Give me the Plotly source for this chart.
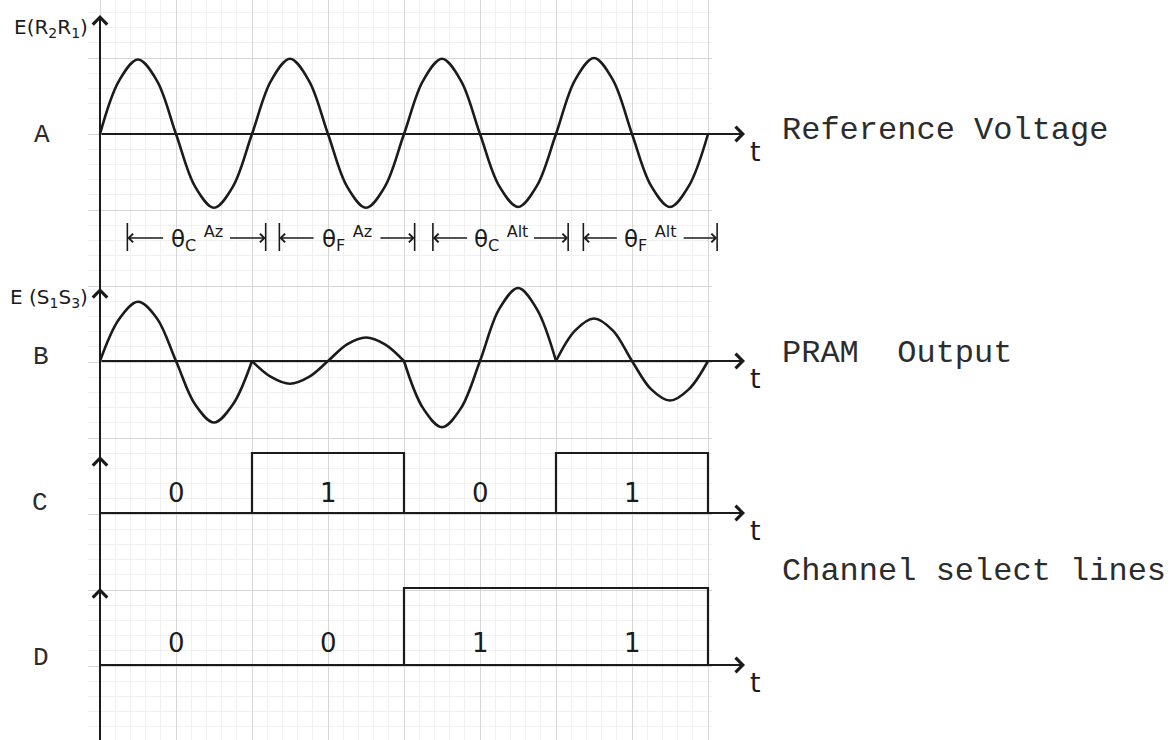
import plotly.graph_objects as go

# ---------------- values ----------------
# time is measured in reference-voltage cycles; one sample every 1/8 cycle
SAMPLES_PER_CYCLE = 8
segment_starts = [0, 1, 2, 3]
t_end = 4

# A: reference voltage E(R2R1), in grid squares
ref_voltage = [
    0, 0.70, 0.98, 0.70, 0, -0.69, -0.97, -0.69,
    0, 0.70, 0.99, 0.70, 0, -0.69, -0.97, -0.69,
    0, 0.70, 0.99, 0.70, 0, -0.68, -0.96, -0.68,
    0, 0.71, 1.00, 0.71, 0, -0.68, -0.96, -0.68,
    0,
]

# B: PRAM output E(S1S3), one list per channel interval
pram_output = [
    [0, 0.55, 0.78, 0.56, 0, -0.57, -0.81, -0.57, 0],
    [0, -0.21, -0.30, -0.21, 0, 0.22, 0.31, 0.22, 0],
    [0, -0.62, -0.87, -0.62, 0, 0.68, 0.96, 0.68, 0],
    [0, 0.40, 0.56, 0.40, 0, -0.37, -0.52, -0.37, 0],
]

# C, D: channel select lines (logic level per interval)
select_c = [0, 1, 0, 1]
select_d = [0, 0, 1, 1]

# measurement intervals drawn under trace A
span_edges = [(0.18, 1.09), (1.18, 2.07), (2.19, 3.08), (3.18, 4.06)]
span_sub = ["C", "F", "C", "F"]
span_axis = ["Az", "Az", "Alt", "Alt"]

# ---------------- layout geometry ----------------
W, H = 1173, 740
X_ORIGIN = 100          # pixel column of t = 0
CYCLE_PX = 152          # pixels per cycle
ARROW_TIP_PX = 745      # tip of the time arrows
SQUARE = 76             # graph paper major square (px)

INK = "#1b1b1b"
TYPE_INK = "#2c2c2c"
HAND_FONT = "DejaVu Sans"
TYPE_FONT = "Liberation Mono"

# name: (top px, bottom px, baseline px, px per unit)
panels = {
    "A": (0, 262, 134, 76),
    "B": (262, 445, 361, 76),
    "C": (440, 590, 513, 60),
    "D": (575, 740, 665, 77),
}
yname = {"A": "y2", "B": "y3", "C": "y4", "D": "y5"}


def px(x):
    return x / W


def py(y):
    return 1 - y / H


def to_t(xpx):
    return (xpx - X_ORIGIN) / CYCLE_PX


def paper_text(x, y, text, size, family, color, xanchor="center"):
    return dict(x=px(x), y=py(y), xref="paper", yref="paper", text=text,
                xanchor=xanchor, yanchor="middle", showarrow=False,
                font=dict(family=family, size=size, color=color))


fig = go.Figure()

# graph paper layer (empty subplot that only carries the grid)
fig.add_trace(go.Scatter(x=[None], y=[None], xaxis="x", yaxis="y",
                         hoverinfo="skip", showlegend=False))

# A: reference voltage
tA = [i / SAMPLES_PER_CYCLE for i in range(len(ref_voltage))]
fig.add_trace(go.Scatter(x=tA, y=ref_voltage, xaxis="x2", yaxis="y2",
                         mode="lines", line=dict(color=INK, width=2.6, shape="spline"),
                         showlegend=False, hoverinfo="skip"))

# B: PRAM output, one piece per interval (cusps at the switching instants)
for start, vals in zip(segment_starts, pram_output):
    tB = [start + i / SAMPLES_PER_CYCLE for i in range(len(vals))]
    fig.add_trace(go.Scatter(x=tB, y=vals, xaxis="x2", yaxis="y3",
                             mode="lines", line=dict(color=INK, width=2.6, shape="spline"),
                             showlegend=False, hoverinfo="skip"))

# C, D: logic levels
for levels, yax in ((select_c, "y4"), (select_d, "y5")):
    xs = segment_starts + [t_end, t_end]
    ys = levels + [levels[-1], 0]
    fig.add_trace(go.Scatter(x=xs, y=ys, xaxis="x2", yaxis=yax,
                             mode="lines", line=dict(color=INK, width=2.2, shape="hv"),
                             showlegend=False, hoverinfo="skip"))

annotations = []
shapes = []

# horizontal time axes with arrow heads and "t"
for name in "ABCD":
    top, bot, base, unit = panels[name]
    annotations.append(dict(
        x=to_t(ARROW_TIP_PX), y=0, xref="x2", yref=yname[name],
        ax=0, ay=0, axref="x2", ayref=yname[name],
        text="", showarrow=True, arrowhead=4, arrowsize=1.4, arrowwidth=2,
        arrowcolor=INK))
    annotations.append(paper_text(755, base + 17, "t", 27, HAND_FONT, INK))

# common vertical axis with an arrow head for each trace
shapes.append(dict(type="line", xref="paper", yref="paper",
                   x0=px(X_ORIGIN), x1=px(X_ORIGIN), y0=0, y1=py(17),
                   line=dict(color=INK, width=2)))
for tip in (15, 288, 456, 588):
    annotations.append(dict(
        x=px(X_ORIGIN), y=py(tip), xref="paper", yref="paper",
        ax=0, ay=22, text="", showarrow=True, arrowhead=4, arrowsize=1.4,
        arrowwidth=2, arrowcolor=INK))

# trace letters
for name, (lx, ly) in {"A": (42, 135), "B": (41, 357), "C": (40, 503), "D": (41, 658)}.items():
    annotations.append(paper_text(lx, ly, name, 26, TYPE_FONT, TYPE_INK))

# quantity labels
annotations.append(paper_text(12, 28, "E(R<sub>2</sub>R<sub>1</sub>)", 20, HAND_FONT, INK,
                              xanchor="left"))
annotations.append(paper_text(8, 298, "E (S<sub>1</sub>S<sub>3</sub>)", 20, HAND_FONT, INK,
                              xanchor="left"))

# typed captions
for txt, (cx, cy) in (("Reference Voltage", (780, 130)),
                      ("PRAM\u00a0\u00a0Output", (780, 353)),
                      ("Channel select lines", (780, 571))):
    annotations.append(paper_text(cx, cy, txt, 32, TYPE_FONT, TYPE_INK, xanchor="left"))

# logic level labels
for levels, name, label_px in ((select_c, "C", 493), (select_d, "D", 643)):
    top, bot, base, unit = panels[name]
    for start, lv in zip(segment_starts, levels):
        annotations.append(dict(x=start + 0.5, y=(base - label_px) / unit,
                                xref="x2", yref=yname[name], text=str(lv), showarrow=False,
                                xanchor="center", yanchor="middle",
                                font=dict(family=HAND_FONT, size=26, color=INK)))

# measurement interval markers under trace A
topA, botA, baseA, unitA = panels["A"]
y_dim = (baseA - 238) / unitA
y_bar0 = (baseA - 223) / unitA
y_bar1 = (baseA - 251) / unitA
HALF_LABEL = 0.21
for (a, b), sub, ax_name in zip(span_edges, span_sub, span_axis):
    mid = (a + b) / 2
    for edge in (a, b):
        shapes.append(dict(type="line", xref="x2", yref="y2", x0=edge, x1=edge,
                           y0=y_bar0, y1=y_bar1, line=dict(color=INK, width=1.6)))
    for edge, tail in ((a, mid - HALF_LABEL), (b, mid + HALF_LABEL)):
        annotations.append(dict(x=edge, y=y_dim, xref="x2", yref="y2",
                                ax=tail, ay=y_dim, axref="x2", ayref="y2",
                                text="", showarrow=True, arrowhead=4, arrowsize=1.3,
                                arrowwidth=1.3, arrowcolor=INK))
    annotations.append(dict(x=mid, y=y_dim, xref="x2", yref="y2",
                            xanchor="center", yanchor="middle",
                            text=f"θ<sub>{sub}</sub>\u00a0<sup>{ax_name}</sup>", showarrow=False,
                            font=dict(family=HAND_FONT, size=23, color=INK)))

# ---------------- axes ----------------
hidden = dict(showgrid=False, zeroline=False, showticklabels=False, showline=False, ticks="")
paper_grid = dict(showgrid=True, dtick=1, tick0=0, gridcolor="#d6d6d6", gridwidth=1,
                  zeroline=False, showticklabels=False, ticks="",
                  minor=dict(dtick=0.2, showgrid=True, gridcolor="#f0f0f0", gridwidth=1))

layout_axes = {}
# graph paper grid
layout_axes["xaxis"] = dict(domain=[px(88), px(712)], range=[-12 / SQUARE, 612 / SQUARE],
                            anchor="y", **paper_grid)
layout_axes["yaxis"] = dict(domain=[0, 1], range=[-(H - 666) / SQUARE, 666 / SQUARE],
                            anchor="x", **paper_grid)
# time axis shared by all traces
layout_axes["xaxis2"] = dict(domain=[0, 1], range=[to_t(0), to_t(W)], anchor="y2", **hidden)
for name in "ABCD":
    top, bot, base, unit = panels[name]
    key = "yaxis" + yname[name][1:]
    layout_axes[key] = dict(domain=[py(bot), py(top)],
                            range=[-(bot - base) / unit, (base - top) / unit],
                            anchor="x2", **hidden)

fig.update_layout(
    width=W, height=H,
    margin=dict(l=0, r=0, t=0, b=0),
    paper_bgcolor="white",
    plot_bgcolor="rgba(0,0,0,0)",
    showlegend=False,
    hovermode=False,
    annotations=annotations,
    shapes=shapes,
    **layout_axes,
)

fig.write_html("out.html")
